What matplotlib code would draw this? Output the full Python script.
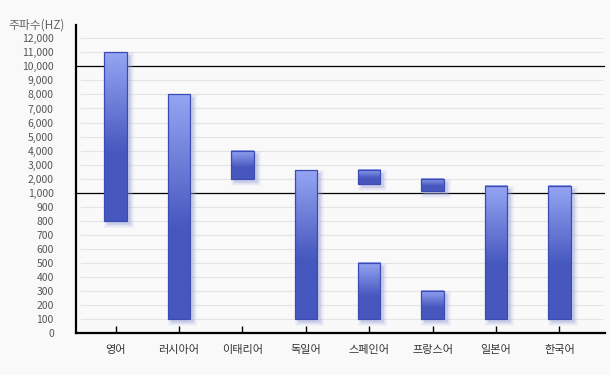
import numpy as np
import matplotlib
matplotlib.use("Agg")
import matplotlib.pyplot as plt
import matplotlib.transforms as mtransforms
from matplotlib.patches import Rectangle
from matplotlib.ticker import FuncFormatter, NullLocator
from matplotlib.colors import to_rgb

plt.rcParams['font.family'] = ['Noto Sans CJK KR', 'DejaVu Sans']

# categories on the x axis
languages = ["영어", "러시아어", "이태리어", "독일어", "스페인어", "프랑스어", "일본어", "한국어"]

# frequency bands (Hz); spanish and french have two bands each
band_lang = ["영어", "러시아어", "이태리어", "독일어", "스페인어", "스페인어",
             "프랑스어", "프랑스어", "일본어", "한국어"]
band_low = [800, 100, 2000, 100, 100, 1600, 100, 1100, 100, 100]
band_high = [11000, 8000, 4000, 2600, 500, 2650, 300, 2000, 1500, 1500]

y_ticks = [0, 100, 200, 300, 400, 500, 600, 700, 800, 900, 1000,
           2000, 3000, 4000, 5000, 6000, 7000, 8000, 9000, 10000, 11000, 12000]


# piecewise linear axis: 0-1000 in 100 steps, then 1000 steps
def fwd(v):
    v = np.asarray(v, dtype=float)
    return np.where(v <= 1000, v / 100.0, 10 + (v - 1000) / 1000.0)


def inv(u):
    u = np.asarray(u, dtype=float)
    return np.where(u <= 10, u * 100.0, 1000 + (u - 10) * 1000.0)


bg = "#f9f9f9"
fig = plt.figure(figsize=(6.1, 3.75), dpi=100, facecolor=bg)
ax = fig.add_axes([76 / 610, 42 / 375, 529 / 610, 308 / 375])
ax.set_facecolor(bg)
ax.set_yscale("function", functions=(fwd, inv))

# grid
for v in y_ticks[1:]:
    if v in (1000, 10000):
        ax.axhline(v, color="black", lw=0.9, zorder=2)
    else:
        ax.axhline(v, xmin=0.01, xmax=0.995, color="#e4e4e4", lw=0.8, zorder=0)

# bars with vertical gradient and soft shadow
light = np.array(to_rgb("#95a5f3"))
dark = np.array(to_rgb("#4657be"))
t = np.linspace(0, 1, 120)
mix = np.clip(t / 0.6, 0, 1)[:, None]
grad = (light * (1 - mix) + dark * mix)[:, None, :]

lin = ax.transLimits + ax.transAxes  # scale space -> display
shadow_tr = mtransforms.offset_copy(lin, fig=fig, x=3, y=-3, units="dots")
w = 0.353

for lang, lo, hi in zip(band_lang, band_low, band_high):
    x = languages.index(lang)
    x0 = x - w / 2
    u0, u1 = float(fwd(lo)), float(fwd(hi))
    for lw_px in (7, 5, 3, 1):
        ax.add_patch(Rectangle((x0, u0), w, u1 - u0, transform=shadow_tr,
                               facecolor="#9aa2d8", edgecolor="#9aa2d8",
                               lw=lw_px * 0.72, alpha=0.09, zorder=2.5))
    ax.imshow(grad, extent=(x0, x0 + w, u0, u1), transform=lin,
              aspect="auto", interpolation="bilinear", zorder=3)
    ax.bar(x, hi - lo, bottom=lo, width=w, fill=False,
           edgecolor="#3b4bb3", lw=0.9, zorder=4)

ax.set_xlim(-0.623, 7.72)
ax.set_ylim(0, float(inv(21.95)))

ax.set_xticks(range(len(languages)), languages)
ax.set_yticks(y_ticks)
ax.yaxis.set_minor_locator(NullLocator())
ax.yaxis.set_major_formatter(FuncFormatter(lambda v, p: f"{v:,.0f}"))
ax.tick_params(axis="x", direction="in", length=5, width=1, pad=9,
               labelsize=8, labelcolor="#333333")
ax.tick_params(axis="y", length=0, pad=16, labelsize=7.5, labelcolor="#555555")

for s in ("top", "right"):
    ax.spines[s].set_visible(False)
for s in ("left", "bottom"):
    ax.spines[s].set_linewidth(1.6)
    ax.spines[s].set_color("black")

fig.text(0.014, 1 - 25 / 375, "주파수(HZ)", ha="left", va="center",
         fontsize=8.5, color="#666666")

fig.savefig("out.png", dpi=100, facecolor=bg)
